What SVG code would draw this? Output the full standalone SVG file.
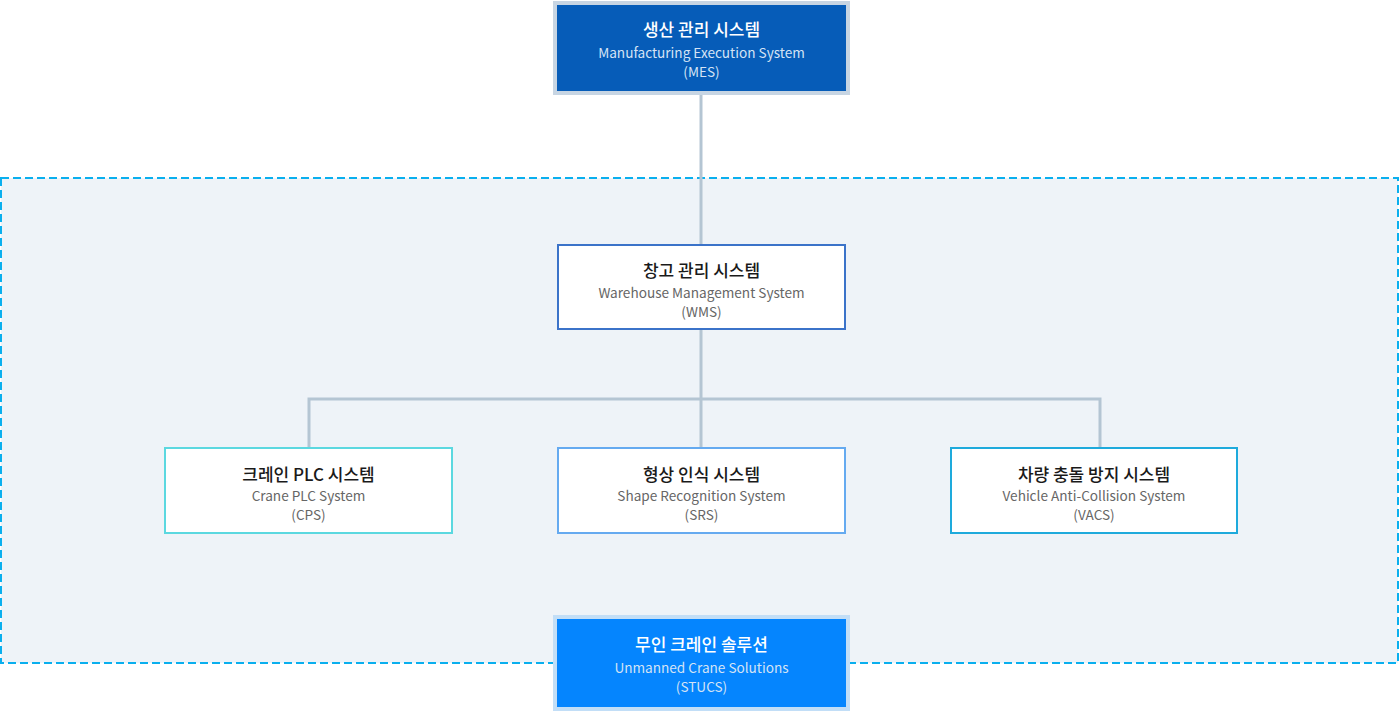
<svg xmlns="http://www.w3.org/2000/svg" width="1400" height="711" viewBox="0 0 1400 711">
<style>
  text { font-family: "Noto Sans CJK KR", "Noto Sans", sans-serif; text-anchor: middle; }
  .t { font-size: 17px; font-weight: 500; fill: #1a1a1a; }
  .s { font-size: 13.6px; fill: #666666; }
  .tw { font-size: 17px; font-weight: 500; fill: #ffffff; }
  .sw { font-size: 13.6px; fill: #d4e3f5; }
  .box { fill: #ffffff; stroke-width: 2; }
  .conn { fill: none; stroke: #b4c5d3; stroke-width: 3; }
</style>
<rect x="0" y="0" width="1400" height="711" fill="#ffffff"/>
<rect id="zone" x="1" y="178" width="1397" height="485" fill="#eef3f8" stroke="#0aafee" stroke-width="2" stroke-dasharray="8 4"/>
<g id="connectors">
  <line class="conn" x1="701" y1="95" x2="701" y2="244"/>
  <line class="conn" x1="701" y1="330" x2="701" y2="447"/>
  <polyline class="conn" points="309,447 309,399 1100,399 1100,447"/>
</g>
<g id="mes">
  <rect x="555" y="3" width="293" height="90" fill="#065cb8" stroke="#c7d5e3" stroke-width="4"/>
  <text class="tw" x="701.5" y="36">생산 관리 시스템</text>
  <text class="sw" x="701.5" y="58">Manufacturing Execution System</text>
  <text class="sw" x="701.5" y="77">(MES)</text>
</g>
<g id="wms">
  <rect class="box" x="558" y="245" width="287" height="84" stroke="#3b73c9"/>
  <text class="t" x="701.5" y="277">창고 관리 시스템</text>
  <text class="s" x="701.5" y="298">Warehouse Management System</text>
  <text class="s" x="701.5" y="317">(WMS)</text>
</g>
<g id="cps">
  <rect class="box" x="165" y="448" width="287" height="85" stroke="#5bd8e0"/>
  <text class="t" x="308.5" y="481">크레인 PLC 시스템</text>
  <text class="s" x="308.5" y="501">Crane PLC System</text>
  <text class="s" x="308.5" y="520">(CPS)</text>
</g>
<g id="srs">
  <rect class="box" x="558" y="448" width="287" height="85" stroke="#65aaf0"/>
  <text class="t" x="701.5" y="481">형상 인식 시스템</text>
  <text class="s" x="701.5" y="501">Shape Recognition System</text>
  <text class="s" x="701.5" y="520">(SRS)</text>
</g>
<g id="vacs">
  <rect class="box" x="951" y="448" width="286" height="85" stroke="#1eaadc"/>
  <text class="t" x="1094" y="481">차량 충돌 방지 시스템</text>
  <text class="s" x="1094" y="501">Vehicle Anti-Collision System</text>
  <text class="s" x="1094" y="520">(VACS)</text>
</g>
<g id="stucs">
  <rect x="555" y="617" width="293" height="92" fill="#0585fe" stroke="#c2def7" stroke-width="4"/>
  <text class="tw" x="701.5" y="651">무인 크레인 솔루션</text>
  <text class="sw" x="701.5" y="673">Unmanned Crane Solutions</text>
  <text class="sw" x="701.5" y="692">(STUCS)</text>
</g>
</svg>
